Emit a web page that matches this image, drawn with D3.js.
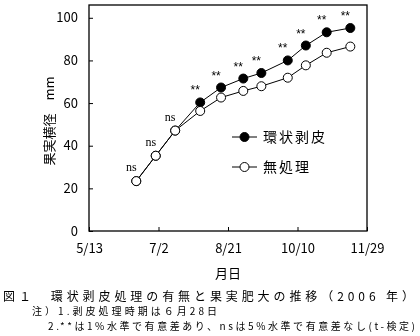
<!DOCTYPE html>
<html><head><meta charset="utf-8">
<script src="https://cdn.jsdelivr.net/npm/d3@7/dist/d3.min.js"></script>
<style>
body{margin:0;background:#fff;}
svg{will-change:transform;}
text{font-family:"Noto Sans CJK JP","Noto Sans",sans-serif;fill:#000;}
</style></head>
<body>
<svg id="c" width="420" height="336"></svg>
<script>
const dates = ["2006-06-16","2006-06-30","2006-07-14","2006-08-01","2006-08-16","2006-09-01","2006-09-14","2006-10-03","2006-10-16","2006-10-31","2006-11-17"];
const girdled = [23.4, 35.3, 47.1, 60.3, 67.3, 71.5, 74.1, 80.0, 87.0, 93.2, 95.2];
const control = [23.4, 35.3, 47.1, 56.3, 62.6, 65.7, 67.9, 71.9, 77.7, 83.6, 86.5];
const sigLabels = ["ns","ns","ns","**","**","**","**","**","**","**","**"];
const xTickDates = ["2006-05-13","2006-07-02","2006-08-21","2006-10-10","2006-11-29"];
const yTicks = [0,20,40,60,80,100];
const seriesNames = ["環状剥皮","無処理"];
const yTitle = "果実横径　mm";
const xTitle = "月日";
const caption = "図１　環状剥皮処理の有無と果実肥大の推移（2006 年）";
const notes = ["注）1.剥皮処理時期は６月28日","2.**は1%水準で有意差あり、nsは5%水準で有意差なし(t-検定)"];

const parse = d3.timeParse("%Y-%m-%d");
const fmt = d3.timeFormat("%-m/%-d");
const svg = d3.select("#c");
const L=89, R=367, T=5, B=231;
const x = d3.scaleTime().domain([parse(xTickDates[0]), parse(xTickDates[xTickDates.length-1])]).range([L,R]);
const y = d3.scaleLinear().domain([0,106]).range([B,T]);

// frame
svg.append("rect").attr("x",L).attr("y",T).attr("width",R-L).attr("height",B-T)
  .attr("fill","none").attr("stroke","#000").attr("stroke-width",1.3);

// axes
const xAxis = d3.axisBottom(x).tickValues(xTickDates.map(parse)).tickFormat(fmt).tickSizeInner(-4).tickSizeOuter(0).tickPadding(13);
const gx = svg.append("g").attr("transform",`translate(0,${B})`).call(xAxis);
gx.select(".domain").remove();
gx.selectAll("line").attr("stroke","#000");
gx.selectAll("text").attr("font-size",13).style("font-family","'Noto Sans CJK JP',sans-serif");

const yAxis = d3.axisLeft(y).tickValues(yTicks).tickSizeInner(-4).tickSizeOuter(0).tickPadding(11);
const gy = svg.append("g").attr("transform",`translate(${L},0)`).call(yAxis);
gy.select(".domain").remove();
gy.selectAll("line").attr("stroke","#000");
gy.selectAll("text").attr("font-size",13).style("font-family","'Noto Sans CJK JP',sans-serif");

// lines
const pts = (vals)=>vals.map((v,i)=>({d:parse(dates[i]),v,i}));
const gData = pts(girdled), cData = pts(control);
const line = d3.line().x(d=>x(d.d)).y(d=>y(d.v));
svg.append("path").datum(gData).attr("d",line).attr("fill","none").attr("stroke","#000").attr("stroke-width",1);
svg.append("path").datum(cData).attr("d",line).attr("fill","none").attr("stroke","#000").attr("stroke-width",1);

svg.append("g").selectAll("circle").data(gData).join("circle")
  .attr("cx",d=>x(d.d)).attr("cy",d=>y(d.v)).attr("r",4.5)
  .attr("fill","#000").attr("stroke","#000");
svg.append("g").selectAll("circle").data(cData).join("circle")
  .attr("cx",d=>x(d.d)).attr("cy",d=>y(d.v)).attr("r",4.5)
  .attr("fill","#fff").attr("stroke","#000").attr("stroke-width",1);

// significance labels
svg.append("g").selectAll("text").data(gData).join("text")
  .attr("x",d=>x(d.d)-5).attr("y",d=> sigLabels[d.i]==="ns" ? y(d.v)-10 : y(d.v)-8)
  .attr("text-anchor","middle")
  .attr("font-size",12)
  .style("font-family",d=> sigLabels[d.i]==="ns"?"'Liberation Serif',serif":"'Liberation Sans',sans-serif")
  .text(d=>sigLabels[d.i]);

// legend
const legY = [137,167];
seriesNames.forEach((n,i)=>{
  const g = svg.append("g");
  g.append("line").attr("x1",232).attr("x2",257).attr("y1",legY[i]).attr("y2",legY[i]).attr("stroke","#000");
  g.append("circle").attr("cx",244.5).attr("cy",legY[i]).attr("r",4.5)
    .attr("fill",i===0?"#000":"#fff").attr("stroke","#000");
  g.append("text").attr("x",263).attr("y",legY[i]+5).attr("font-size",14).attr("letter-spacing",2).text(n);
});

// titles
svg.append("text").attr("transform",`translate(54,121) rotate(-90)`).attr("text-anchor","middle")
  .attr("font-size",13).text(yTitle);
svg.append("text").attr("x",228).attr("y",278).attr("text-anchor","middle").attr("font-size",13).text(xTitle);

svg.append("text").attr("x",3).attr("y",301).attr("font-size",12)
  .attr("textLength",411).attr("lengthAdjust","spacing").text(caption);
svg.append("text").attr("x",32).attr("y",315).attr("font-size",10)
  .attr("textLength",185).attr("lengthAdjust","spacing").text(notes[0]);
svg.append("text").attr("x",48).attr("y",330).attr("font-size",10)
  .attr("textLength",367).attr("lengthAdjust","spacing").text(notes[1]);
</script>
</body></html>
